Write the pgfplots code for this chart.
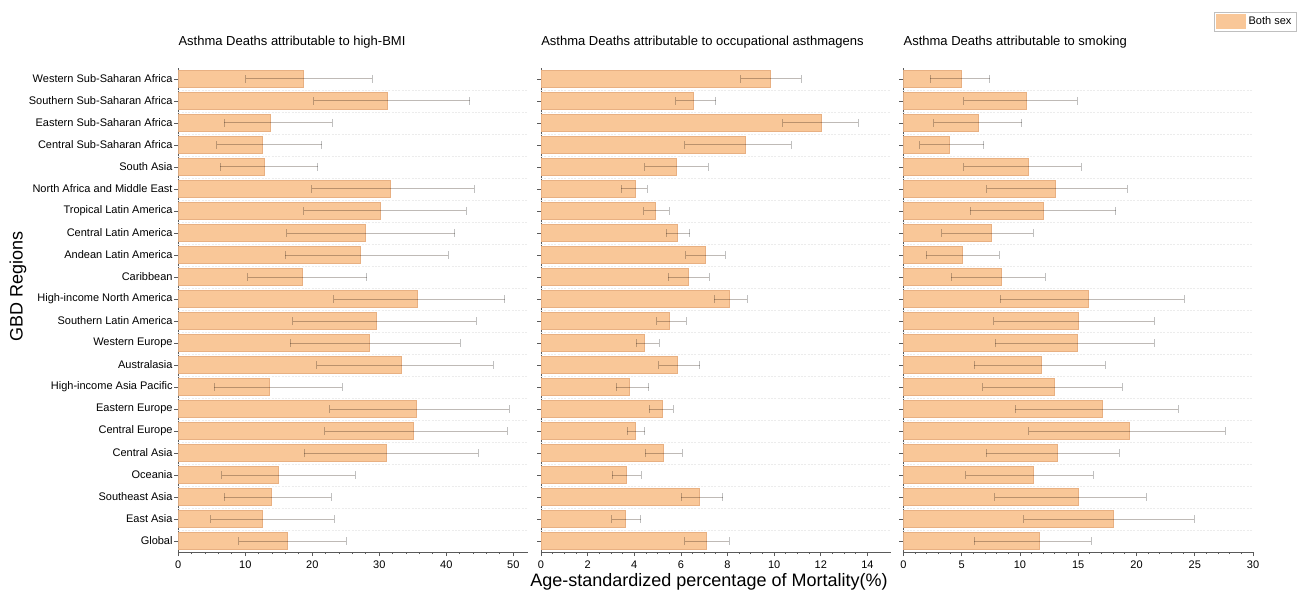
\documentclass[border=0pt]{standalone}
\usepackage{pgfplots}
\pgfplotsset{compat=1.18}
\usepackage{pgfplotstable}
\usepackage{fontspec}
\setmainfont{Liberation Sans}
\definecolor{barfill}{RGB}{249,199,152}
\definecolor{baredge}{RGB}{232,176,130}
\definecolor{axisgray}{RGB}{90,90,90}
\definecolor{errgray}{RGB}{192,192,192}

% y: 0 = Global (bottom) ... 21 = Western Sub-Saharan Africa (top)
\pgfplotstableread{
y v lo hi
0 16.3 9.0 25.1
1 12.6 4.83 23.3
2 13.9 6.87 22.8
3 14.9 6.47 26.4
4 31.0 18.8 44.8
5 35.1 21.9 49.1
6 35.6 22.6 49.4
7 13.6 5.4 24.5
8 33.3 20.7 47.0
9 28.56 16.7 42.1
10 29.6 17.06 44.5
11 35.7 23.2 48.7
12 18.56 10.4 28.1
13 27.2 16.0 40.3
14 27.9 16.2 41.3
15 30.2 18.76 43.0
16 31.6 19.9 44.2
17 12.8 6.27 20.8
18 12.5 5.77 21.4
19 13.8 6.87 23.0
20 31.2 20.25 43.5
21 18.7 10.05 28.96
}\bmi

\pgfplotstableread{
y v lo hi
0 7.10 6.17 8.07
1 3.63 3.03 4.27
2 6.80 6.01 7.80
3 3.67 3.06 4.30
4 5.23 4.47 6.06
5 4.04 3.70 4.44
6 5.19 4.64 5.67
7 3.80 3.23 4.63
8 5.84 5.06 6.80
9 4.44 4.09 5.07
10 5.51 4.97 6.23
11 8.07 7.44 8.84
12 6.30 5.46 7.21
13 7.04 6.21 7.90
14 5.84 5.37 6.37
15 4.91 4.40 5.50
16 4.03 3.44 4.56
17 5.80 4.44 7.17
18 8.77 6.17 10.74
19 12.01 10.37 13.60
20 6.54 5.77 7.49
21 9.84 8.56 11.16
}\occ

\pgfplotstableread{
y v lo hi
0 11.69 6.09 16.11
1 18.03 10.34 24.94
2 15.03 7.83 20.83
3 11.17 5.34 16.29
4 13.20 7.11 18.51
5 19.40 10.74 27.60
6 17.06 9.60 23.57
7 12.94 6.80 18.77
8 11.86 6.09 17.31
9 14.94 7.89 21.51
10 14.97 7.74 21.51
11 15.89 8.31 24.11
12 8.43 4.11 12.17
13 5.09 1.97 8.23
14 7.51 3.29 11.14
15 12.03 5.74 18.20
16 13.03 7.14 19.20
17 10.71 5.17 15.26
18 3.97 1.40 6.91
19 6.46 2.60 10.14
20 10.57 5.17 14.91
21 4.97 2.31 7.40
}\smk

\pgfplotsset{
  panel/.style={
    scale only axis, width=262.3pt, height=363pt,
    anchor=south west,
    xbar, bar width=0.8,
    xmin=0, ymin=-0.5, ymax=21.5,
    axis lines*=left,
    axis line style={axisgray, line width=0.75pt},
    tick align=outside,
    major tick length=3pt, minor tick length=1.5pt,
    tick style={axisgray, line width=0.6pt},
    ytick={0,...,21},
    yticklabels={},
    extra y ticks={0.5,1.5,...,20.5},
    extra y tick labels={},
    extra y tick style={grid=major, tick style={draw=none},
      major grid style={gray!15, line width=0.5pt, dash pattern=on 1.5pt off 1pt}},
    ticklabel style={font=\fontsize{8.25}{10}\selectfont},
    yticklabel style={xshift=2.25pt},
    /pgf/number format/assume math mode=true,
    title style={at={(0,1)}, anchor=base west, yshift=10.5pt,
      font=\fontsize{9.75}{12}\selectfont, inner sep=0pt},
  },
  barplot/.style={
    fill=barfill, draw=baredge, line width=0.5pt,
    error bars/.cd, x dir=both, x explicit, error mark=|,
    error bar style={line width=0.75pt, draw=errgray, blend mode=multiply},
    error mark options={line width=0.75pt, draw=errgray, blend mode=multiply, mark size=3pt},
  },
}

\begin{document}
\begin{tikzpicture}
\path[use as bounding box] (0,0) rectangle (973.5pt,444.75pt);

\begin{axis}[panel, at={(133.7pt,30.75pt)},
  xmax=52.2, xtick={0,10,...,50}, minor x tick num=4,
  yticklabels={Global,East Asia,Southeast Asia,Oceania,Central Asia,Central Europe,Eastern Europe,High-income Asia Pacific,Australasia,Western Europe,Southern Latin America,High-income North America,Caribbean,Andean Latin America,Central Latin America,Tropical Latin America,North Africa and Middle East,South Asia,Central Sub-Saharan Africa,Eastern Sub-Saharan Africa,Southern Sub-Saharan Africa,Western Sub-Saharan Africa},
  title={Asthma Deaths attributable to high-BMI}]
\addplot[barplot] table[x=v, y=y, x error plus expr=\thisrow{hi}-\thisrow{v}, x error minus expr=\thisrow{v}-\thisrow{lo}] {\bmi};
\end{axis}

\begin{axis}[panel, at={(405.75pt,30.75pt)},
  xmax=15, xtick={0,2,...,14}, minor x tick num=3,
  title={Asthma Deaths attributable to occupational asthmagens}]
\addplot[barplot] table[x=v, y=y, x error plus expr=\thisrow{hi}-\thisrow{v}, x error minus expr=\thisrow{v}-\thisrow{lo}] {\occ};
\end{axis}

\begin{axis}[panel, at={(677.5pt,30.75pt)},
  xmax=30, xtick={0,5,...,30}, minor x tick num=4,
  title={Asthma Deaths attributable to smoking},
  legend style={at={(1.123,1.1157)}, anchor=north east, draw=gray!50, line width=0.5pt,
    font=\fontsize{8.25}{10}\selectfont, inner sep=1.5pt, outer sep=0pt},
  legend image code/.code={\fill[barfill] (0pt,-5.25pt) rectangle (22pt,5.25pt);}]
\addplot[barplot] table[x=v, y=y, x error plus expr=\thisrow{hi}-\thisrow{v}, x error minus expr=\thisrow{v}-\thisrow{lo}] {\smk};
\addlegendentry{Both sex}
\end{axis}

\node[anchor=base, font=\fontsize{13.5}{16}\selectfont] at (531.75pt,5.25pt) {Age-standardized percentage of Mortality(\%)};
\node[rotate=90, anchor=center, font=\fontsize{13.5}{16}\selectfont] at (13.5pt,230.25pt) {GBD Regions};
\end{tikzpicture}
\end{document}
